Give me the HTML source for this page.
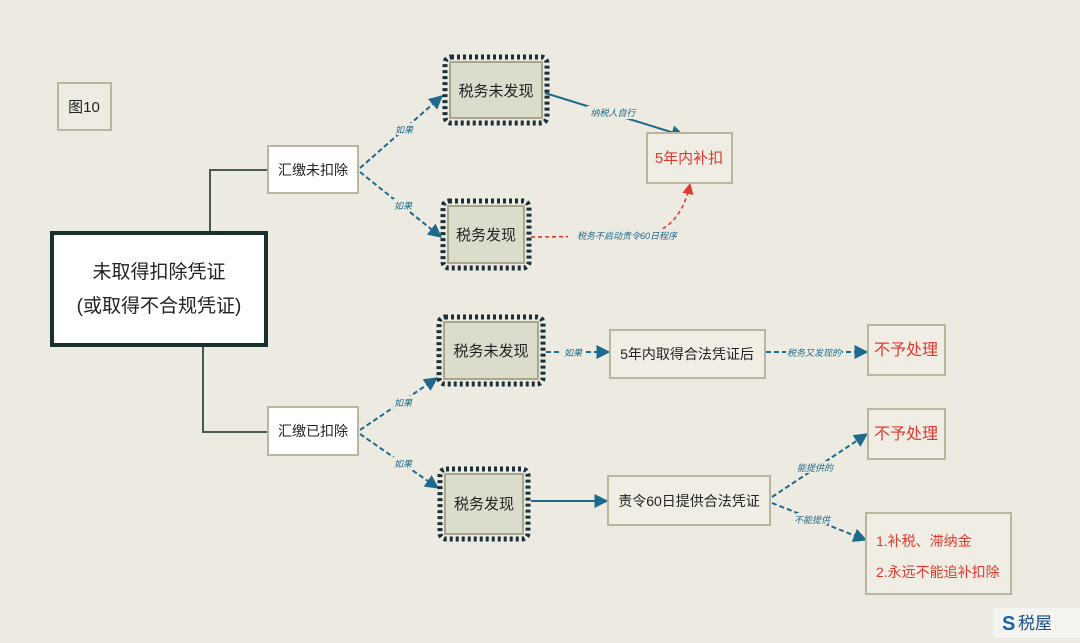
<!DOCTYPE html>
<html><head><meta charset="utf-8"><style>
html,body{margin:0;padding:0;background:#edebe1;}
svg{display:block;font-family:"Liberation Sans","Noto Sans CJK SC",sans-serif;}
</style></head><body>
<svg width="1080" height="643" viewBox="0 0 1080 643" xmlns="http://www.w3.org/2000/svg">
<defs>
<marker id="a" viewBox="0 0 10 10" refX="9" refY="5" markerWidth="7" markerHeight="7" orient="auto"><path d="M0,0L10,5L0,10z" fill="#1e6a8c"/></marker>
<marker id="r" viewBox="0 0 10 10" refX="9" refY="5" markerWidth="7" markerHeight="7" orient="auto"><path d="M0,0L10,5L0,10z" fill="#e03a30"/></marker>
</defs>
<rect width="1080" height="643" fill="#edebe1"/>
<rect x="58" y="83" width="53" height="47" fill="#eeece2" stroke="#b9b59e" stroke-width="2"/>
<text x="84" y="112" font-size="15" text-anchor="middle" fill="#222">图10</text>
<path d="M210 231V170H268M203 346V432H268" fill="none" stroke="#4a5a52" stroke-width="2"/>
<rect x="52" y="233" width="214" height="112" fill="#fff" stroke="#16322f" stroke-width="4"/>
<text x="159" y="278" font-size="19" text-anchor="middle" fill="#222">未取得扣除凭证</text>
<text x="159" y="312" font-size="19" text-anchor="middle" fill="#222">(或取得不合规凭证)</text>
<rect x="268" y="146" width="90" height="47" fill="#fff" stroke="#b9b59e" stroke-width="2"/>
<text x="313" y="175" font-size="14" text-anchor="middle" fill="#222">汇缴未扣除</text>
<rect x="268" y="407" width="90" height="48" fill="#fff" stroke="#b9b59e" stroke-width="2"/>
<text x="313" y="436" font-size="14" text-anchor="middle" fill="#222">汇缴已扣除</text>
<g stroke="#1e6a8c" stroke-width="2" stroke-dasharray="5,3" fill="none">
<path d="M360 168L442 96" marker-end="url(#a)"/>
<path d="M360 172L441 237" marker-end="url(#a)"/>
<path d="M360 430L437 378" marker-end="url(#a)"/>
<path d="M360 434L438 488" marker-end="url(#a)"/>
<path d="M546 352L609 352" marker-end="url(#a)"/>
<path d="M766 352L867 352" marker-end="url(#a)"/>
<path d="M772 497L867 434" marker-end="url(#a)"/>
<path d="M772 503L866 540" marker-end="url(#a)"/>
</g>
<g stroke="#1e6a8c" stroke-width="2" fill="none">
<path d="M545 93L684 136" marker-end="url(#a)"/>
<path d="M531 501L607 501" marker-end="url(#a)"/>
</g>
<path d="M531 237L640 236Q680 232 690 184" stroke="#e03a30" stroke-width="1.6" stroke-dasharray="4,3" fill="none" marker-end="url(#r)"/>
<g font-size="9" font-style="italic" fill="#1e6a8c" text-anchor="middle">
<rect x="394" y="123" width="20" height="12" fill="#edebe1"/><text x="404" y="133">如果</text>
<rect x="393" y="199" width="20" height="12" fill="#edebe1"/><text x="403" y="209">如果</text>
<rect x="393" y="396" width="20" height="12" fill="#edebe1"/><text x="403" y="406">如果</text>
<rect x="393" y="457" width="20" height="12" fill="#edebe1"/><text x="403" y="467">如果</text>
<rect x="587" y="106" width="52" height="13" fill="#edebe1"/><text x="613" y="116">纳税人自行</text>
<rect x="568" y="229" width="118" height="13" fill="#edebe1"/><text x="627" y="239">税务不启动责令60日程序</text>
<rect x="562" y="346" width="22" height="12" fill="#edebe1"/><text x="573" y="356">如果</text>
<rect x="786" y="346" width="56" height="12" fill="#edebe1"/><text x="814" y="356">税务又发现的</text>
<rect x="800" y="461" width="30" height="12" fill="#edebe1"/><text x="815" y="471">能提供的</text>
<rect x="797" y="513" width="30" height="12" fill="#edebe1"/><text x="812" y="523">不能提供</text>
</g>
<g fill="none" stroke="#1b3038" stroke-width="5" stroke-dasharray="3,3">
<rect x="445" y="57" width="102" height="66" rx="6"/>
<rect x="443" y="201" width="86" height="67" rx="6"/>
<rect x="439" y="317" width="104" height="67" rx="6"/>
<rect x="440" y="469" width="88" height="70" rx="6"/>
</g>
<g fill="#dcdccd" stroke="#a9a68e" stroke-width="2">
<rect x="450" y="62" width="92" height="56"/>
<rect x="448" y="206" width="76" height="57"/>
<rect x="444" y="322" width="94" height="57"/>
<rect x="445" y="474" width="78" height="60"/>
</g>
<g font-size="15" text-anchor="middle" fill="#222">
<text x="496" y="96">税务未发现</text>
<text x="486" y="240">税务发现</text>
<text x="491" y="356">税务未发现</text>
<text x="484" y="509">税务发现</text>
</g>
<g fill="#efede4" stroke="#b9b59e" stroke-width="2">
<rect x="647" y="133" width="85" height="50"/>
<rect x="610" y="330" width="155" height="48"/>
<rect x="868" y="325" width="77" height="50"/>
<rect x="608" y="476" width="162" height="49"/>
<rect x="868" y="409" width="77" height="50"/>
<rect x="866" y="513" width="145" height="81"/>
</g>
<g font-size="14" text-anchor="middle">
<text x="689" y="163" fill="#e03a30" font-size="15">5年内补扣</text>
<text x="687" y="359" fill="#222">5年内取得合法凭证后</text>
<text x="906" y="355" fill="#e03a30" font-size="16">不予处理</text>
<text x="689" y="506" fill="#222">责令60日提供合法凭证</text>
<text x="906" y="439" fill="#e03a30" font-size="16">不予处理</text>
<text x="876" y="546" fill="#e03a30" text-anchor="start">1.补税、滞纳金</text>
<text x="876" y="577" fill="#e03a30" text-anchor="start">2.永远不能追补扣除</text>
</g>
<rect x="993" y="608" width="87" height="30" fill="#f4f4f0"/>
<text x="1002" y="630" font-size="20" font-weight="bold" fill="#1d5fa8">S</text>
<text x="1018" y="629" font-size="17" fill="#1d4f8a">税屋</text>
</svg>
</body></html>
